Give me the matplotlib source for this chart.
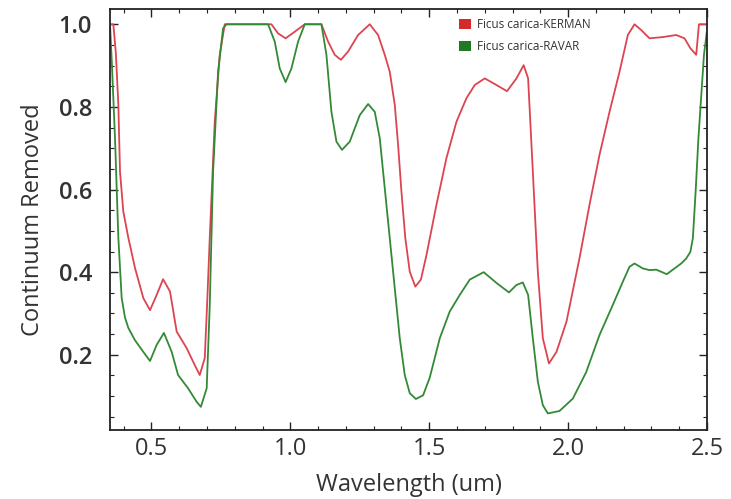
import matplotlib
matplotlib.use("Agg")
import matplotlib.pyplot as plt
from matplotlib.ticker import MultipleLocator
from matplotlib.patches import Patch

# wavelength (um) and continuum removed values
wl_kerman = [0.352, 0.363, 0.372, 0.381, 0.387, 0.399, 0.417, 0.441, 0.471, 0.495,
             0.519, 0.542, 0.567, 0.591, 0.627, 0.656, 0.674, 0.692, 0.701, 0.710,
             0.728, 0.746, 0.764, 0.932, 0.956, 0.983, 1.016, 1.052, 1.112, 1.136,
             1.160, 1.182, 1.208, 1.244, 1.286, 1.316, 1.340, 1.358, 1.376, 1.388,
             1.400, 1.414, 1.430, 1.450, 1.470, 1.490, 1.526, 1.562, 1.598, 1.634,
             1.664, 1.700, 1.742, 1.780, 1.814, 1.840, 1.856, 1.873, 1.891, 1.909,
             1.931, 1.958, 1.994, 2.041, 2.077, 2.113, 2.149, 2.185, 2.215, 2.239,
             2.263, 2.293, 2.341, 2.389, 2.419, 2.440, 2.461, 2.471, 2.500]
kerman = [1.000, 1.000, 0.930, 0.805, 0.643, 0.546, 0.483, 0.410, 0.337, 0.308,
          0.345, 0.383, 0.353, 0.256, 0.216, 0.175, 0.151, 0.192, 0.330, 0.483,
          0.764, 0.926, 1.000, 1.000, 0.978, 0.966, 0.982, 1.000, 1.000, 0.958,
          0.926, 0.914, 0.934, 0.974, 1.000, 0.974, 0.926, 0.885, 0.805, 0.708,
          0.595, 0.482, 0.401, 0.365, 0.382, 0.441, 0.563, 0.676, 0.764, 0.821,
          0.853, 0.869, 0.853, 0.838, 0.869, 0.901, 0.869, 0.643, 0.401, 0.240,
          0.179, 0.207, 0.280, 0.434, 0.563, 0.684, 0.788, 0.885, 0.974, 1.000,
          0.986, 0.966, 0.969, 0.974, 0.966, 0.942, 0.926, 1.000, 1.000]

wl_ravar = [0.351, 0.358, 0.369, 0.381, 0.393, 0.405, 0.417, 0.441, 0.471, 0.495,
            0.519, 0.545, 0.573, 0.596, 0.632, 0.663, 0.678, 0.699, 0.710, 0.722,
            0.740, 0.758, 0.770, 0.920, 0.944, 0.962, 0.983, 1.004, 1.028, 1.052,
            1.112, 1.130, 1.148, 1.166, 1.186, 1.214, 1.250, 1.280, 1.304, 1.322,
            1.340, 1.358, 1.376, 1.394, 1.412, 1.430, 1.452, 1.478, 1.502, 1.538,
            1.574, 1.610, 1.646, 1.696, 1.742, 1.787, 1.814, 1.837, 1.856, 1.873,
            1.891, 1.909, 1.927, 1.969, 2.017, 2.065, 2.113, 2.161, 2.197, 2.221,
            2.239, 2.269, 2.293, 2.317, 2.335, 2.355, 2.383, 2.407, 2.425, 2.440,
            2.449, 2.459, 2.469, 2.481, 2.489, 2.499]
ravar = [1.000, 0.900, 0.724, 0.483, 0.337, 0.290, 0.265, 0.235, 0.207, 0.185,
         0.224, 0.253, 0.207, 0.151, 0.119, 0.086, 0.074, 0.119, 0.320, 0.643,
         0.885, 0.990, 1.000, 1.000, 0.958, 0.893, 0.860, 0.893, 0.958, 1.000,
         1.000, 0.926, 0.788, 0.716, 0.696, 0.716, 0.780, 0.807, 0.788, 0.724,
         0.603, 0.482, 0.361, 0.240, 0.151, 0.107, 0.093, 0.102, 0.145, 0.240,
         0.305, 0.345, 0.382, 0.400, 0.374, 0.351, 0.369, 0.375, 0.345, 0.240,
         0.135, 0.078, 0.058, 0.064, 0.094, 0.158, 0.248, 0.321, 0.377, 0.413,
         0.421, 0.409, 0.405, 0.406, 0.401, 0.395, 0.409, 0.421, 0.433, 0.449,
         0.482, 0.595, 0.724, 0.845, 0.926, 0.980]

labels = ["Ficus carica-KERMAN", "Ficus carica-RAVAR"]

plt.rcParams['font.family'] = ['Open Sans', 'DejaVu Sans']

fig = plt.figure(figsize=(7.31, 4.99), dpi=100)
ax = fig.add_axes([0.1505, 0.1383, 0.8167, 0.8437])

ax.plot(wl_kerman, kerman, color='#dc4450', lw=1.3, solid_joinstyle='round')
ax.plot(wl_ravar, ravar, color='#338a36', lw=1.3, solid_joinstyle='round')

ax.set_xlim(0.351, 2.5)
ax.set_ylim(0.018, 1.037)
ax.xaxis.set_major_locator(MultipleLocator(0.5))
ax.xaxis.set_minor_locator(MultipleLocator(0.1))
ax.yaxis.set_major_locator(MultipleLocator(0.2))
ax.yaxis.set_minor_locator(MultipleLocator(0.05))
ax.set_yticks([0.2, 0.4, 0.6, 0.8, 1.0])
ax.tick_params(which='both', direction='in', top=True, right=True, color='#222222')
ax.tick_params(which='major', length=6, width=1.0, labelsize=17, labelcolor='#333333')
ax.tick_params(which='minor', length=3, width=0.8)
ax.tick_params(axis='x', which='major', pad=5)
ax.tick_params(axis='y', which='major', pad=13)
for lab in ax.get_yticklabels():
    lab.set_fontweight('semibold')
for s in ax.spines.values():
    s.set_linewidth(1.3)
    s.set_color('#222222')

ax.set_xlabel("Wavelength (um)", fontsize=17, color='#333333', labelpad=9)
ax.set_ylabel("Continuum Removed", fontsize=17, color='#333333', labelpad=10)

handles = [Patch(facecolor='#d42a2a', edgecolor='none'),
           Patch(facecolor='#1f7a22', edgecolor='none')]
ax.legend(handles, labels, loc='upper left', bbox_to_anchor=(0.585, 0.978),
          frameon=False, fontsize=8.5, handlelength=1.0, handleheight=1.0,
          handletextpad=0.5, labelspacing=0.75, borderpad=0, borderaxespad=0,
          labelcolor='#333333')

fig.savefig("out.png", dpi=100)
